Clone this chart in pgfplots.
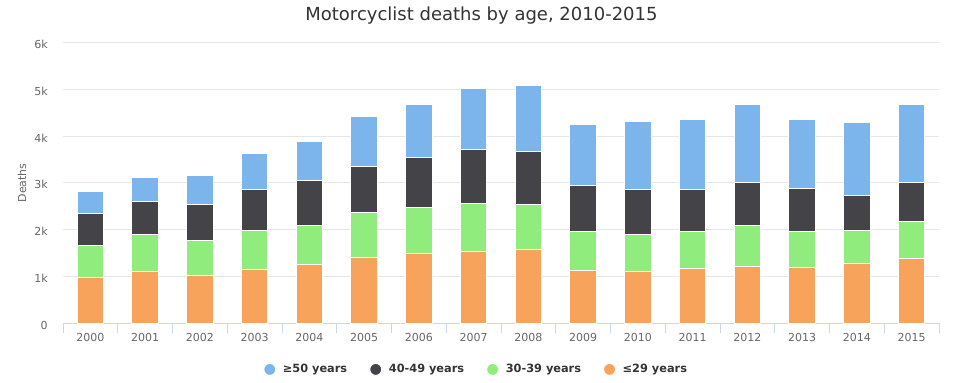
\documentclass[border=0pt]{standalone}
\usepackage{fontspec}
\setmainfont{DejaVu Sans}
\usepackage{pgfplots}
\usepackage{pgfplotstable}
\pgfplotsset{compat=1.18}
\definecolor{cBlue}{HTML}{7CB5EC}
\definecolor{cDark}{HTML}{434348}
\definecolor{cGreen}{HTML}{90ED7D}
\definecolor{cOrange}{HTML}{F7A35C}
\definecolor{cGrid}{HTML}{E6E6E6}
\definecolor{cAxis}{HTML}{CCD6EB}
\definecolor{cTick}{HTML}{666666}
\definecolor{cTitle}{HTML}{333333}
\pgfplotstableread{
x u29 t30 f40 o50
0 980 680 690 455
1 1110 783 705 512
2 1025 747 769 626
3 1153 833 868 769
4 1253 832 961 826
5 1409 961 982 1075
6 1495 982 1067 1118
7 1537 1025 1153 1289
8 1580 961 1132 1395
9 1132 832 983 1309
10 1110 790 961 1438
11 1174 790 897 1502
12 1217 876 918 1651
13 1196 768 919 1480
14 1281 705 747 1545
15 1388 790 833 1651
}\deaths
\pgfplotsset{circleg/.style={legend image code/.code={\fill[##1] (4.5pt,0pt) circle (4.5pt);}}}
\begin{document}
\begin{tikzpicture}
\path[use as bounding box] (0,0) rectangle (722.25pt,286.5pt);
\begin{axis}[
  at={(47.25pt,44pt)}, anchor=south west,
  scale only axis, width=657pt, height=210.75pt,
  ybar stacked, bar width=0.48,
  xmin=-0.5, xmax=15.5, ymin=0, ymax=6000,
  enlargelimits=false,
  separate axis lines,
  axis x line*=bottom, axis y line*=left,
  x axis line style={draw=cAxis, line width=0.75pt},
  y axis line style={draw=none},
  ymajorgrids, grid style={draw=cGrid, line width=0.75pt},
  xtick={0,...,15},
  xticklabels={2000,2001,2002,2003,2004,2005,2006,2007,2008,2009,2010,2011,2012,2013,2014,2015},
  minor xtick={-0.5,0.5,...,15.5},
  tick align=outside,
  major tick length=0pt,
  minor tick length=7.5pt,
  minor x tick style={draw=cAxis, line width=0.75pt},
  major tick style={draw=none},
  ytick={0,1000,2000,3000,4000,5000,6000},
  yticklabels={0,1k,2k,3k,4k,5k,6k},
  xticklabel style={font=\fontsize{8.25pt}{10pt}\selectfont, text=cTick, anchor=base, inner sep=0pt, yshift=-13.3pt},
  yticklabel style={font=\fontsize{8.25pt}{10pt}\selectfont, text=cTick, anchor=base east, inner sep=0pt, xshift=-11.25pt, yshift=-4.6pt},
  ylabel={Deaths},
  ylabel style={at={(axis description cs:-0.0468,0.5)}, anchor=center, font=\fontsize{8.25pt}{10pt}\selectfont, text=cTick},
  title={Motorcyclist deaths by age, 2010-2015},
  every axis title/.style={at={(axis description cs:0.4777,1.0776)}, anchor=base, font=\fontsize{13.5pt}{16pt}\selectfont, text=cTitle, inner sep=0pt},
  reverse legend,
  legend columns=4,
  legend style={at={(axis description cs:0.472,-0.164)}, anchor=center, draw=none, fill=none,
    font=\bfseries\fontsize{8.5pt}{10pt}\selectfont, text=cTitle,
    /tikz/every odd column/.append style={column sep=3pt},
    /tikz/every even column/.append style={column sep=14.5pt}},
]
\addplot[fill=cOrange, draw=white, line width=0.75pt, circleg] table[x=x, y=u29]{\deaths};
\addlegendentry{≤29 years}
\addplot[fill=cGreen, draw=white, line width=0.75pt, circleg] table[x=x, y=t30]{\deaths};
\addlegendentry{30-39 years}
\addplot[fill=cDark, draw=white, line width=0.75pt, circleg] table[x=x, y=f40]{\deaths};
\addlegendentry{40-49 years}
\addplot[fill=cBlue, draw=white, line width=0.75pt, circleg] table[x=x, y=o50]{\deaths};
\addlegendentry{≥50 years}
\end{axis}
\end{tikzpicture}
\end{document}
